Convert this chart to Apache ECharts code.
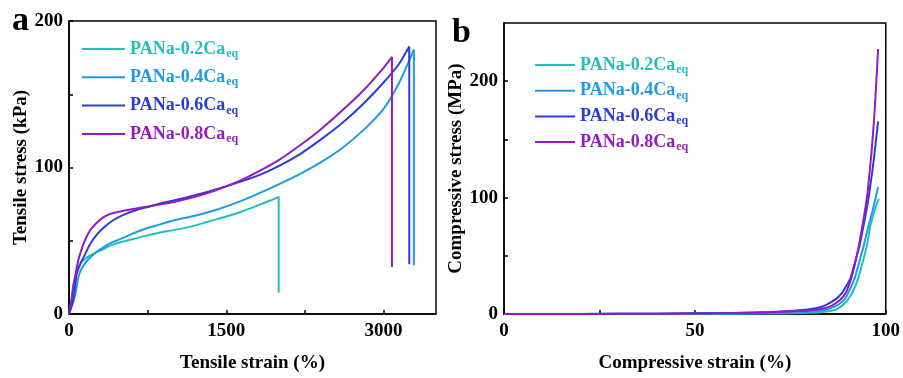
<!DOCTYPE html>
<html>
<head>
<meta charset="utf-8">
<script src="https://cdn.jsdelivr.net/npm/echarts@6/dist/echarts.min.js"></script>
<style>html,body{margin:0;padding:0;background:#fff}#c{width:903px;height:378px}</style>
</head>
<body>
<div id="c"></div>
<script>
// ---- data ----
const seriesNames = ['PANa-0.2Ca', 'PANa-0.4Ca', 'PANa-0.6Ca', 'PANa-0.8Ca'];
const subscript = 'eq';
const colors = ['#22BFBF', '#1C9CE6', '#2B3DD8', '#9619C4'];

// Tensile: [strain %, stress kPa]
const tensile02 = [[0,0],[20,8],[41,20],[70,28],[104,34],[160,38],[231,41],[320,44],[421,47.5],[550,50],[706,53],[860,55.5],[1022,57.6],[1180,60],[1339,63.3],[1500,66.5],[1650,70],[1814,74.5],[1920,77.5],[2000,80],[2000,14.5]];
const tensile04 = [[0,0],[40,8],[70,17],[89,25],[120,31],[168,36],[230,40.5],[294,44],[400,48.5],[548,53],[700,57.5],[864,61],[1000,64],[1200,67],[1400,71],[1600,76],[1800,82],[2000,88.5],[2200,95.5],[2400,103.5],[2600,113],[2800,125],[3000,140],[3150,158],[3289,180.4],[3289,33.3]];
const tensile06 = [[0,0],[35,8],[55,17],[73,27],[110,34.5],[152,40.7],[200,47.5],[263,54],[340,59.5],[421,64],[530,68],[643,71],[769,73.4],[900,76],[1000,77.5],[1200,81],[1400,85],[1600,89.5],[1800,94.5],[2000,101],[2200,109],[2400,119],[2600,130],[2800,143],[3000,158],[3150,171],[3245,182.6],[3245,34]];
const tensile08 = [[0,0],[25,10],[40,18],[57,25],[80,34],[104,40.7],[150,50],[200,57],[260,62],[326,66],[400,68.5],[484,70],[600,71.5],[706,72.8],[864,74.8],[1000,76.5],[1200,80],[1400,84.5],[1600,90],[1800,97],[2000,105],[2200,115],[2400,126],[2600,138.5],[2800,152],[3000,168],[3080,175.5],[3080,32]];

// Compressive: [strain %, stress MPa]
const comp02 = [[0,0],[40,0.1],[60,0.3],[70,0.5],[80,1],[84,2],[86,3],[87,4],[88.5,7],[90,12],[91.5,20],[92.8,31],[94,45],[95.1,59.6],[96,76],[97,88],[97.6,94],[98.2,99]];
const comp04 = [[0,0],[20,0.05],[40,0.2],[60,0.5],[70,0.9],[75,1.3],[80,2],[84,3.5],[86,5.5],[88,9],[89.5,14],[91,24],[91.9,31],[93,44],[94.3,59.6],[95.5,76],[96.5,88],[97.3,99],[98,109]];
const comp06 = [[0,0],[20,0.1],[40,0.3],[60,0.9],[70,1.7],[75,2.5],[80,4],[83,6],[85,9],[87,13],[88.5,18],[90,26],[90.8,31],[92,45],[93.2,59.6],[94.2,76],[94.9,88],[95.6,102],[96.2,116],[96.7,128],[97.3,145],[98,165.5]];
const comp08 = [[0,0],[20,0.1],[40,0.3],[60,0.8],[70,1.5],[75,2.2],[80,3],[84,5],[86,7.5],[88,12],[89.5,18],[91,31],[92,44],[93,59.6],[94,78],[94.5,88],[95.2,103],[95.6,116],[96.3,140],[97,170],[97.5,198],[98,227.7]];

const tensileX = { ticks: [0, 750, 1500, 2250, 3000], labels: [0, 1500, 3000] };
const tensileY = { ticks: [0, 50, 100, 150, 200], labels: [0, 100, 200] };
const compX = { ticks: [0, 25, 50, 75, 100], labels: [0, 50, 100] };
const compY = { ticks: [0, 50, 100, 150, 200], labels: [0, 100, 200] };

// ---- chart ----
const FONT = '"Liberation Serif","Times New Roman",serif';
const tensileData = [tensile02, tensile04, tensile06, tensile08];
const compData = [comp02, comp04, comp06, comp08];

const rich = {};
colors.forEach((c, i) => {
  rich['n' + i] = { fontFamily: FONT, fontWeight: 'bold', fontSize: 18, color: c, lineHeight: 22 };
  rich['s' + i] = { fontFamily: FONT, fontWeight: 'bold', fontSize: 12, color: c, lineHeight: 22, padding: [9, 0, 0, 1], verticalAlign: 'bottom' };
});
function legendFmt(name) {
  const i = seriesNames.indexOf(name);
  return '{n' + i + '|' + name + '}{s' + i + '|' + subscript + '}';
}

function axisCommon(vals, min, max, nameText, nameGap, labelMargin) {
  return {
    type: 'value', min: min, max: max,
    name: nameText, nameLocation: 'middle', nameGap: nameGap,
    nameTextStyle: { fontFamily: FONT, fontWeight: 'bold', fontSize: 19, color: '#000' },
    axisLine: { show: true, lineStyle: { color: '#000', width: 1.5 } },
    axisTick: { show: true, inside: true, length: 4, customValues: vals.ticks, lineStyle: { color: '#000', width: 1.5 } },
    axisLabel: { customValues: vals.labels, formatter: v => String(v), fontFamily: FONT, fontWeight: 'bold', fontSize: 19, color: '#000', margin: labelMargin },
    splitLine: { show: false }
  };
}

const series = [];
seriesNames.forEach((n, i) => {
  series.push({ name: n, type: 'line', xAxisIndex: 0, yAxisIndex: 0, data: tensileData[i], showSymbol: false, symbol: 'none',
    smooth: 0.2, lineStyle: { color: colors[i], width: 2 }, itemStyle: { color: colors[i] }, z: 2 + i });
});
seriesNames.forEach((n, i) => {
  series.push({ name: n, type: 'line', xAxisIndex: 1, yAxisIndex: 1, data: compData[i], showSymbol: false, symbol: 'none',
    smooth: 0.15, lineStyle: { color: colors[i], width: 2 }, itemStyle: { color: colors[i] }, z: 2 + i });
});

const chart = echarts.init(document.getElementById('c'), null, { renderer: 'canvas' });
chart.setOption({
  animation: false,
  backgroundColor: '#fff',
  grid: [
    { left: 69, top: 21, right: 467, bottom: 61, show: true, borderColor: '#000', borderWidth: 1.5, containLabel: false },
    { left: 504, top: 23, right: 17, bottom: 61, show: true, borderColor: '#000', borderWidth: 1.5, containLabel: false }
  ],
  xAxis: [
    Object.assign(axisCommon(tensileX, 0, 3500, 'Tensile strain (%)', 40, 8), { gridIndex: 0 }),
    Object.assign(axisCommon(compX, 0, 100, 'Compressive strain (%)', 40, 8), { gridIndex: 1 })
  ],
  yAxis: [
    Object.assign(axisCommon(tensileY, 0, 200, 'Tensile stress (kPa)', 38, 6), { gridIndex: 0 }),
    Object.assign(axisCommon(compY, 0, 250, 'Compressive stress (MPa)', 38, 6), { gridIndex: 1 })
  ],
  legend: [
    { orient: 'vertical', left: 82, top: 39, padding: 0, icon: 'rect', itemWidth: 43, itemHeight: 2, itemGap: 7.3,
      data: seriesNames, formatter: legendFmt, textStyle: { rich: rich }, selectedMode: false },
    { orient: 'vertical', left: 535, top: 55, padding: 0, icon: 'rect', itemWidth: 40, itemHeight: 2, itemGap: 4.7,
      data: seriesNames, formatter: legendFmt, textStyle: { rich: rich }, selectedMode: false }
  ],
  graphic: [
    { type: 'text', left: 12, top: 4, style: { text: 'a', font: 'bold 34px ' + FONT, fill: '#000' } },
    { type: 'text', left: 452, top: 16, style: { text: 'b', font: 'bold 34px ' + FONT, fill: '#000' } }
  ],
  series: series
});
</script>
</body>
</html>
